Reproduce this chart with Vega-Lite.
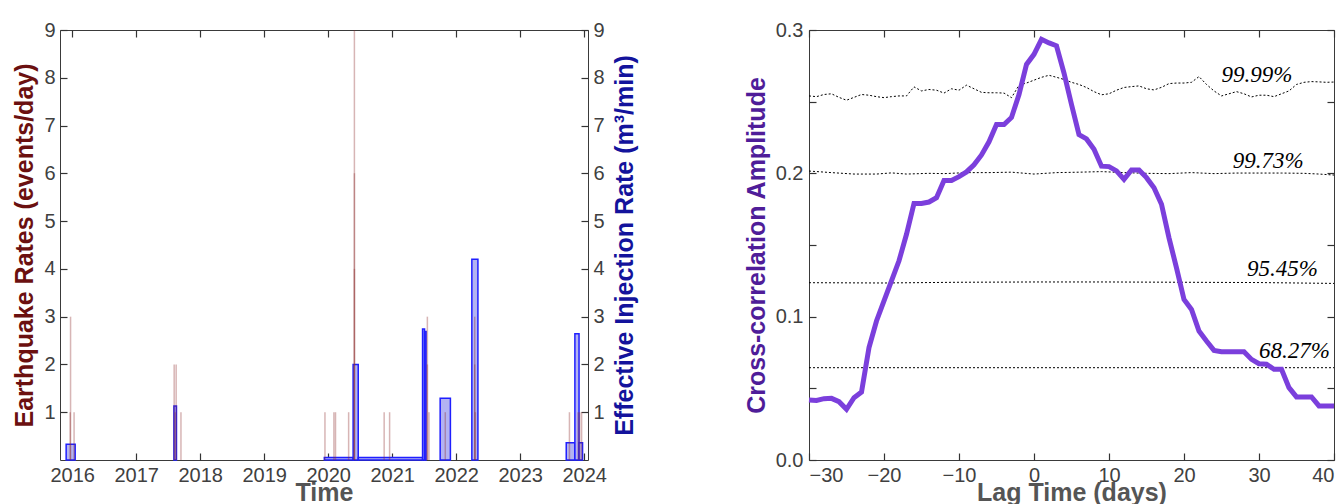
{
  "$schema": "https://vega.github.io/schema/vega-lite/v6.json",
  "padding": {"left": 12, "top": 19, "right": 0, "bottom": 0},
  "bounds": "flush",
  "spacing": 221,
  "datasets": {
    "quakes": [
      {"year": 2015.970, "rate": 1}, {"year": 2015.975, "rate": 3}, {"year": 2016.030, "rate": 1},
      {"year": 2017.594, "rate": 2}, {"year": 2017.625, "rate": 2}, {"year": 2017.610, "rate": 1}, {"year": 2017.700, "rate": 1},
      {"year": 2019.950, "rate": 1}, {"year": 2020.090, "rate": 1}, {"year": 2020.115, "rate": 1}, {"year": 2020.320, "rate": 1},
      {"year": 2020.410, "rate": 9}, {"year": 2020.410, "rate": 6}, {"year": 2020.410, "rate": 4},
      {"year": 2020.875, "rate": 1}, {"year": 2020.960, "rate": 1},
      {"year": 2021.550, "rate": 3}, {"year": 2021.550, "rate": 2}, {"year": 2021.575, "rate": 1},
      {"year": 2021.830, "rate": 1},
      {"year": 2022.290, "rate": 3}, {"year": 2022.290, "rate": 2}, {"year": 2022.300, "rate": 1},
      {"year": 2023.770, "rate": 1}, {"year": 2023.905, "rate": 1}, {"year": 2023.930, "rate": 1}, {"year": 2023.960, "rate": 1}
    ],
    "injection": [
      {"start": 2015.906, "end": 2016.047, "rate": 0.33},
      {"start": 2017.590, "end": 2017.630, "rate": 1.13},
      {"start": 2019.940, "end": 2020.390, "rate": 0.05},
      {"start": 2020.390, "end": 2020.470, "rate": 2.0},
      {"start": 2020.470, "end": 2021.475, "rate": 0.05},
      {"start": 2021.475, "end": 2021.506, "rate": 2.74},
      {"start": 2021.506, "end": 2021.530, "rate": 2.69},
      {"start": 2021.750, "end": 2021.910, "rate": 1.29},
      {"start": 2022.245, "end": 2022.340, "rate": 4.2},
      {"start": 2023.720, "end": 2023.855, "rate": 0.36},
      {"start": 2023.855, "end": 2023.920, "rate": 2.64},
      {"start": 2023.920, "end": 2023.975, "rate": 0.36}
    ],
    "xcorr": [
      {"lag": -30, "value": 0.0419}, {"lag": -29, "value": 0.0415}, {"lag": -28, "value": 0.0428}, {"lag": -27, "value": 0.043},
      {"lag": -26, "value": 0.0407}, {"lag": -25, "value": 0.0354}, {"lag": -24, "value": 0.0435}, {"lag": -23, "value": 0.0474},
      {"lag": -22, "value": 0.0784}, {"lag": -21, "value": 0.097}, {"lag": -20, "value": 0.111}, {"lag": -19, "value": 0.125},
      {"lag": -18, "value": 0.139}, {"lag": -17, "value": 0.1575}, {"lag": -16, "value": 0.179}, {"lag": -15, "value": 0.179},
      {"lag": -14, "value": 0.18}, {"lag": -13, "value": 0.183}, {"lag": -12, "value": 0.195}, {"lag": -11, "value": 0.195},
      {"lag": -10, "value": 0.1977}, {"lag": -9, "value": 0.201}, {"lag": -8, "value": 0.206}, {"lag": -7, "value": 0.2128},
      {"lag": -6, "value": 0.222}, {"lag": -5, "value": 0.234}, {"lag": -4, "value": 0.234}, {"lag": -3, "value": 0.239},
      {"lag": -2, "value": 0.255}, {"lag": -1, "value": 0.276}, {"lag": 0, "value": 0.283}, {"lag": 1, "value": 0.2935},
      {"lag": 2, "value": 0.291}, {"lag": 3, "value": 0.289}, {"lag": 4, "value": 0.27}, {"lag": 5, "value": 0.248},
      {"lag": 6, "value": 0.227}, {"lag": 7, "value": 0.224}, {"lag": 8, "value": 0.2168}, {"lag": 9, "value": 0.205},
      {"lag": 10, "value": 0.2047}, {"lag": 11, "value": 0.2017}, {"lag": 12, "value": 0.1958}, {"lag": 13, "value": 0.2024},
      {"lag": 14, "value": 0.2024}, {"lag": 15, "value": 0.197}, {"lag": 16, "value": 0.19}, {"lag": 17, "value": 0.1784},
      {"lag": 18, "value": 0.155}, {"lag": 19, "value": 0.134}, {"lag": 20, "value": 0.112}, {"lag": 21, "value": 0.105},
      {"lag": 22, "value": 0.09}, {"lag": 23, "value": 0.083}, {"lag": 24, "value": 0.0765}, {"lag": 25, "value": 0.0756},
      {"lag": 26, "value": 0.0756}, {"lag": 27, "value": 0.0756}, {"lag": 28, "value": 0.0756}, {"lag": 29, "value": 0.0702},
      {"lag": 30, "value": 0.0672}, {"lag": 31, "value": 0.0668}, {"lag": 32, "value": 0.0633}, {"lag": 33, "value": 0.0633},
      {"lag": 34, "value": 0.0505}, {"lag": 35, "value": 0.044}, {"lag": 36, "value": 0.044}, {"lag": 37, "value": 0.044},
      {"lag": 38, "value": 0.0377}, {"lag": 39, "value": 0.0377}, {"lag": 40, "value": 0.0377}
    ],
    "levels": [
      {"level": "99.99%", "lag": -30, "value": 0.254}, {"level": "99.99%", "lag": -29, "value": 0.2535}, {"level": "99.99%", "lag": -28, "value": 0.255},
      {"level": "99.99%", "lag": -27, "value": 0.2555}, {"level": "99.99%", "lag": -26, "value": 0.253}, {"level": "99.99%", "lag": -25, "value": 0.251},
      {"level": "99.99%", "lag": -24, "value": 0.253}, {"level": "99.99%", "lag": -23, "value": 0.255}, {"level": "99.99%", "lag": -22, "value": 0.2545},
      {"level": "99.99%", "lag": -21, "value": 0.2535}, {"level": "99.99%", "lag": -20, "value": 0.2528}, {"level": "99.99%", "lag": -19, "value": 0.2535},
      {"level": "99.99%", "lag": -18, "value": 0.254}, {"level": "99.99%", "lag": -17, "value": 0.254}, {"level": "99.99%", "lag": -16, "value": 0.2603},
      {"level": "99.99%", "lag": -15, "value": 0.2575}, {"level": "99.99%", "lag": -14, "value": 0.2585}, {"level": "99.99%", "lag": -13, "value": 0.258},
      {"level": "99.99%", "lag": -12, "value": 0.256}, {"level": "99.99%", "lag": -11, "value": 0.259}, {"level": "99.99%", "lag": -10, "value": 0.258},
      {"level": "99.99%", "lag": -9, "value": 0.2615}, {"level": "99.99%", "lag": -8, "value": 0.259}, {"level": "99.99%", "lag": -7, "value": 0.2565},
      {"level": "99.99%", "lag": -6, "value": 0.2562}, {"level": "99.99%", "lag": -5, "value": 0.2562}, {"level": "99.99%", "lag": -4, "value": 0.256},
      {"level": "99.99%", "lag": -3, "value": 0.2528}, {"level": "99.99%", "lag": -2, "value": 0.2615}, {"level": "99.99%", "lag": -1, "value": 0.263},
      {"level": "99.99%", "lag": 0, "value": 0.265}, {"level": "99.99%", "lag": 1, "value": 0.267}, {"level": "99.99%", "lag": 2, "value": 0.2684},
      {"level": "99.99%", "lag": 3, "value": 0.267}, {"level": "99.99%", "lag": 4, "value": 0.2655}, {"level": "99.99%", "lag": 5, "value": 0.2635},
      {"level": "99.99%", "lag": 6, "value": 0.262}, {"level": "99.99%", "lag": 7, "value": 0.2599}, {"level": "99.99%", "lag": 8, "value": 0.257},
      {"level": "99.99%", "lag": 9, "value": 0.2548}, {"level": "99.99%", "lag": 10, "value": 0.2555}, {"level": "99.99%", "lag": 11, "value": 0.258},
      {"level": "99.99%", "lag": 12, "value": 0.2599}, {"level": "99.99%", "lag": 13, "value": 0.2605}, {"level": "99.99%", "lag": 14, "value": 0.261},
      {"level": "99.99%", "lag": 15, "value": 0.259}, {"level": "99.99%", "lag": 16, "value": 0.2582}, {"level": "99.99%", "lag": 17, "value": 0.26},
      {"level": "99.99%", "lag": 18, "value": 0.2626}, {"level": "99.99%", "lag": 19, "value": 0.263}, {"level": "99.99%", "lag": 20, "value": 0.263},
      {"level": "99.99%", "lag": 21, "value": 0.2635}, {"level": "99.99%", "lag": 22, "value": 0.2675}, {"level": "99.99%", "lag": 23, "value": 0.262},
      {"level": "99.99%", "lag": 24, "value": 0.2575}, {"level": "99.99%", "lag": 25, "value": 0.254}, {"level": "99.99%", "lag": 26, "value": 0.2555},
      {"level": "99.99%", "lag": 27, "value": 0.257}, {"level": "99.99%", "lag": 28, "value": 0.2555}, {"level": "99.99%", "lag": 29, "value": 0.2533},
      {"level": "99.99%", "lag": 30, "value": 0.2545}, {"level": "99.99%", "lag": 31, "value": 0.2545}, {"level": "99.99%", "lag": 32, "value": 0.2535},
      {"level": "99.99%", "lag": 33, "value": 0.2555}, {"level": "99.99%", "lag": 34, "value": 0.2575}, {"level": "99.99%", "lag": 35, "value": 0.262},
      {"level": "99.99%", "lag": 36, "value": 0.2635}, {"level": "99.99%", "lag": 37, "value": 0.264}, {"level": "99.99%", "lag": 38, "value": 0.2638},
      {"level": "99.99%", "lag": 39, "value": 0.2635}, {"level": "99.99%", "lag": 40, "value": 0.2637},
      {"level": "99.73%", "lag": -30, "value": 0.2016}, {"level": "99.73%", "lag": -27, "value": 0.2005}, {"level": "99.73%", "lag": -24, "value": 0.1995},
      {"level": "99.73%", "lag": -21, "value": 0.1995}, {"level": "99.73%", "lag": -19, "value": 0.2003}, {"level": "99.73%", "lag": -17, "value": 0.1995},
      {"level": "99.73%", "lag": -14, "value": 0.2}, {"level": "99.73%", "lag": -12, "value": 0.1998}, {"level": "99.73%", "lag": -9, "value": 0.2005},
      {"level": "99.73%", "lag": -6, "value": 0.2005}, {"level": "99.73%", "lag": -3, "value": 0.2008}, {"level": "99.73%", "lag": 0, "value": 0.1995},
      {"level": "99.73%", "lag": 3, "value": 0.2005}, {"level": "99.73%", "lag": 6, "value": 0.2008}, {"level": "99.73%", "lag": 9, "value": 0.2012},
      {"level": "99.73%", "lag": 12, "value": 0.2005}, {"level": "99.73%", "lag": 15, "value": 0.2}, {"level": "99.73%", "lag": 18, "value": 0.1998},
      {"level": "99.73%", "lag": 21, "value": 0.2005}, {"level": "99.73%", "lag": 24, "value": 0.1998}, {"level": "99.73%", "lag": 27, "value": 0.2002},
      {"level": "99.73%", "lag": 30, "value": 0.2002}, {"level": "99.73%", "lag": 33, "value": 0.2002}, {"level": "99.73%", "lag": 36, "value": 0.2},
      {"level": "99.73%", "lag": 38, "value": 0.1995}, {"level": "99.73%", "lag": 40, "value": 0.1988},
      {"level": "95.45%", "lag": -30, "value": 0.1237}, {"level": "95.45%", "lag": -20, "value": 0.1235}, {"level": "95.45%", "lag": -10, "value": 0.124},
      {"level": "95.45%", "lag": 0, "value": 0.1242}, {"level": "95.45%", "lag": 10, "value": 0.1242}, {"level": "95.45%", "lag": 20, "value": 0.124},
      {"level": "95.45%", "lag": 30, "value": 0.1238}, {"level": "95.45%", "lag": 40, "value": 0.1232},
      {"level": "68.27%", "lag": -30, "value": 0.0644}, {"level": "68.27%", "lag": 0, "value": 0.0644}, {"level": "68.27%", "lag": 40, "value": 0.0644}
    ],
    "levelLabels": [
      {"label": "99.99%", "lag": 25.0, "value": 0.2637},
      {"label": "99.73%", "lag": 26.5, "value": 0.204},
      {"label": "95.45%", "lag": 28.4, "value": 0.1284},
      {"label": "68.27%", "lag": 30.0, "value": 0.0714}
    ]
  },
  "hconcat": [
    {
      "width": 528,
      "height": 430,
      "resolve": {"scale": {"y": "independent"}, "axis": {"x": "independent", "y": "independent"}},
      "layer": [
        {
          "data": {"name": "injection"},
          "mark": {"type": "rect", "fill": "#b3b3f2", "stroke": "#1f1fff", "strokeWidth": 1.5},
          "encoding": {
            "x": {"field": "start", "type": "quantitative", "scale": {"domain": [2015.81, 2024.06], "nice": false, "zero": false}, "axis": null},
            "x2": {"field": "end"},
            "y": {"field": "rate", "type": "quantitative", "scale": {"domain": [0, 9], "nice": false},
              "axis": {"orient": "right", "values": [1, 2, 3, 4, 5, 6, 7, 8, 9], "title": "Effective Injection Rate (m³/min)", "titleColor": "#13139c", "titleAngle": 270, "titleBaseline": "top", "labelAlign": "left", "labelPadding": 5, "titlePadding": 8}},
            "y2": {"datum": 0}
          }
        },
        {
          "data": {"name": "quakes"},
          "mark": {"type": "rule", "color": "#8b2c2c", "opacity": 0.35, "strokeWidth": 1.5},
          "encoding": {
            "x": {"field": "year", "type": "quantitative", "scale": {"domain": [2015.81, 2024.06], "nice": false, "zero": false},
              "axis": {"orient": "bottom", "values": [2016, 2017, 2018, 2019, 2020, 2021, 2022, 2023, 2024], "format": "d", "title": "Time", "labelPadding": 5, "titlePadding": -5}},
            "y": {"field": "rate", "type": "quantitative", "scale": {"domain": [0, 9], "nice": false},
              "axis": {"orient": "left", "values": [1, 2, 3, 4, 5, 6, 7, 8, 9], "title": "Earthquake Rates (events/day)", "titleColor": "#6b1010", "labelPadding": 5}},
            "y2": {"datum": 0}
          }
        },
        {
          "mark": {"type": "text", "text": "a)", "font": "Liberation Sans", "fontSize": 38, "fontWeight": "bold", "color": "#000", "align": "left", "baseline": "alphabetic"},
          "encoding": {
            "x": {"datum": 2015.995, "type": "quantitative", "scale": {"domain": [2015.81, 2024.06], "nice": false, "zero": false},
              "axis": {"orient": "top", "values": [2016, 2017, 2018, 2019, 2020, 2021, 2022, 2023, 2024], "labels": false, "title": null}},
            "y": {"datum": 8.18, "type": "quantitative", "scale": {"domain": [0, 9], "nice": false}, "axis": null}
          }
        }
      ]
    },
    {
      "width": 525,
      "height": 430,
      "resolve": {"axis": {"x": "independent", "y": "independent"}},
      "layer": [
        {
          "data": {"name": "levels"},
          "mark": {"type": "line", "color": "#000", "strokeWidth": 1, "strokeDash": [2, 2]},
          "encoding": {
            "x": {"field": "lag", "type": "quantitative", "scale": {"domain": [-30, 40], "nice": false, "zero": false},
              "axis": {"orient": "bottom", "values": [-30, -20, -10, 0, 10, 20, 30, 40], "title": "Lag Time (days)", "labelPadding": 5, "titlePadding": -5}},
            "y": {"field": "value", "type": "quantitative", "scale": {"domain": [0, 0.3], "nice": false},
              "axis": {"orient": "left", "values": [0, 0.05, 0.1, 0.15, 0.2, 0.25, 0.3], "labelExpr": "round(datum.value*20) % 2 == 0 ? format(datum.value, '.1f') : ''", "title": "Cross-correlation Amplitude", "titleColor": "#4f1d99", "labelPadding": 6}},
            "detail": {"field": "level", "type": "nominal"}
          }
        },
        {
          "data": {"name": "xcorr"},
          "mark": {"type": "line", "color": "#7b3fdc", "strokeWidth": 5, "strokeJoin": "miter"},
          "encoding": {
            "x": {"field": "lag", "type": "quantitative", "axis": null},
            "y": {"field": "value", "type": "quantitative", "axis": null}
          }
        },
        {
          "data": {"name": "levelLabels"},
          "mark": {"type": "text", "font": "Liberation Serif", "fontStyle": "italic", "fontSize": 23, "align": "left", "baseline": "alphabetic", "color": "#000"},
          "encoding": {
            "x": {"field": "lag", "type": "quantitative", "axis": null},
            "y": {"field": "value", "type": "quantitative", "axis": null},
            "text": {"field": "label"}
          }
        },
        {
          "mark": {"type": "text", "text": "b)", "font": "Liberation Sans", "fontSize": 38, "fontWeight": "bold", "color": "#000", "align": "left", "baseline": "alphabetic"},
          "encoding": {
            "x": {"datum": -28.57, "type": "quantitative",
              "axis": {"orient": "top", "values": [-30, -20, -10, 0, 10, 20, 30, 40], "labels": false, "title": null}},
            "y": {"datum": 0.27, "type": "quantitative",
              "axis": {"orient": "right", "values": [0, 0.05, 0.1, 0.15, 0.2, 0.25, 0.3], "labels": false, "title": null}}
          }
        }
      ]
    }
  ],
  "config": {
    "view": {"stroke": "#3a3a3a", "strokeWidth": 1},
    "axis": {
      "domain": false,
      "grid": false,
      "ticks": true,
      "offset": -7,
      "tickSize": 7,
      "tickColor": "#333333",
      "tickWidth": 1.2,
      "tickOpacity": 1,
      "zindex": 1,
      "labelPadding": 6,
      "labelFont": "Liberation Sans",
      "labelFontSize": 20,
      "labelColor": "#404040",
      "titleFont": "Liberation Sans",
      "titleFontSize": 25,
      "titleFontWeight": "bold",
      "titleColor": "#555555",
      "titlePadding": 6,
      "labelOverlap": false
    }
  }
}
